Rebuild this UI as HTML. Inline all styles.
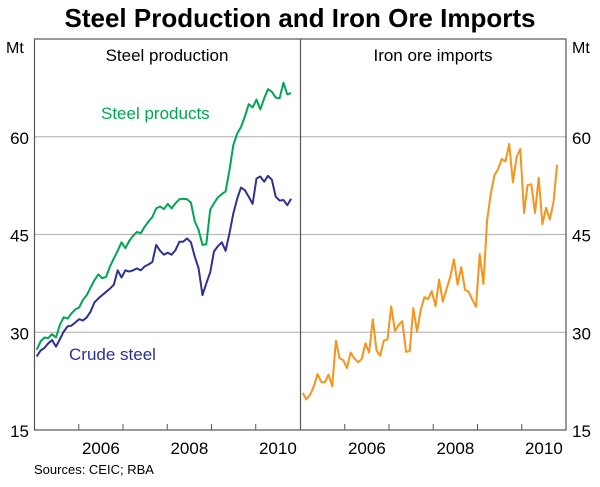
<!DOCTYPE html>
<html><head><meta charset="utf-8"><style>
body{margin:0;background:#fff;width:600px;height:482px;overflow:hidden}
svg text{font-family:"Liberation Sans",Arial,sans-serif}
</style></head><body>
<svg id="chart" width="600" height="482">
<text x="300" y="27" text-anchor="middle" font-size="26" font-weight="bold" fill="#000">Steel Production and Iron Ore Imports</text>
<g id="grid"></g>
<g id="series"></g>
<rect x="34.5" y="39" width="531.5" height="391" fill="none" stroke="#555" stroke-width="1.2"/>
<line x1="300.5" y1="39" x2="300.5" y2="430" stroke="#555" stroke-width="1.2"/>
<text x="167" y="61" text-anchor="middle" font-size="17">Steel production</text>
<text x="433" y="61" text-anchor="middle" font-size="17">Iron ore imports</text>
<text x="6" y="53" font-size="16">Mt</text>
<text x="572" y="53" font-size="16">Mt</text>
<text x="101" y="119" font-size="17" fill="#00a651">Steel products</text>
<text x="69" y="360" font-size="17" fill="#2e3192">Crude steel</text>
<text x="34" y="474" font-size="13">Sources: CEIC; RBA</text>
<g id="axes"></g>
</svg>
<script>
const yTicks=[15,30,45,60];
const yearLabels=[2006,2008,2010];
const steelProducts=[27.3,28.6,29.2,29.1,29.7,29.2,31.1,32.3,32.1,32.9,33.5,33.8,35.0,35.7,36.9,38.0,38.9,38.3,38.5,40.1,41.3,42.5,43.8,42.9,44.0,44.8,45.4,45.2,46.2,47.0,47.7,49.0,49.3,48.9,49.7,49.0,49.8,50.4,50.5,50.4,49.9,47.0,45.7,43.4,43.5,48.8,49.8,50.7,51.2,51.6,54.9,58.7,60.5,61.5,63.1,65.0,64.5,65.7,64.2,65.9,67.3,66.9,66.0,65.9,68.3,66.5,66.7];
const crudeSteel=[26.3,27.2,27.6,28.3,28.8,27.8,28.9,30.1,30.9,31.0,31.5,32.0,31.8,32.3,33.2,34.6,35.2,35.7,36.2,36.7,37.3,39.5,38.4,39.5,39.3,39.5,39.8,39.5,40.1,40.4,40.8,43.4,42.5,41.9,42.2,41.9,42.6,43.9,43.9,44.4,43.8,41.6,39.8,35.7,37.5,39.2,42.4,43.2,43.8,42.5,45.2,48.2,50.5,52.2,51.8,50.8,49.7,53.6,53.9,53.1,54.0,53.4,50.8,50.2,50.3,49.5,50.5];
const ironOre=[20.7,19.7,20.4,21.7,23.6,22.4,22.3,23.5,21.7,28.7,26.0,25.7,24.5,26.9,26.0,25.4,25.9,28.3,26.9,32.0,27.2,26.4,28.7,28.9,34.0,30.2,31.1,31.7,27.0,27.1,33.7,30.1,33.4,35.4,35.1,36.3,34.0,38.1,34.7,36.6,38.5,41.2,37.3,40.0,36.5,36.2,35.0,33.9,42.0,37.4,47.2,51.3,54.1,55.1,56.6,56.2,58.9,53.0,56.9,58.1,48.3,52.6,52.7,48.3,53.7,46.6,49.1,47.3,50.0,55.7];
const T0=2005,T1=2011,dStart=2005.05,dEnd=2010.8;
const NS='http://www.w3.org/2000/svg';
function y(v){return 430-(v-15)*(391/60);}
function xs(x0){return t=>x0+(t-T0)*(265.5/(T1-T0));}
const xL=xs(34.5),xR=xs(300.5);
const grid=document.getElementById('grid'),axes=document.getElementById('axes'),ser=document.getElementById('series');
function mk(tag,attrs,parent){const e=document.createElementNS(NS,tag);for(const k in attrs)e.setAttribute(k,attrs[k]);parent.appendChild(e);return e;}
yTicks.forEach(v=>{
 if(v>15){const g=mk('line',{x1:34.5,x2:566,y1:y(v),y2:y(v),stroke:'#bbb','stroke-width':1.2},grid);
 
 }
 const a=mk('text',{x:29,y:y(v)+7,'text-anchor':'end','font-size':17},axes);a.textContent=v;
 
 
 const b=mk('text',{x:572,y:y(v)+7,'font-size':17},axes);b.textContent=v;
 
 
});
[xL,xR].forEach((xf,pi)=>{
 for(let yr=2006;yr<=2010;yr++){const t=mk('line',{x1:xf(yr),x2:xf(yr),y1:430,y2:424,stroke:'#555','stroke-width':1},axes);
 
 }
 yearLabels.forEach(yr=>{const l=mk('text',{x:xf(yr+0.5),y:454,'text-anchor':'middle','font-size':17},axes);l.textContent=yr;
 
 });
});
function line(data,xf,color,name){
 const n=data.length;const pts=data.map((v,i)=>xf(dStart+(dEnd-dStart)*i/(n-1)).toFixed(1)+','+y(v).toFixed(1)).join(' ');
 const p=mk('polyline',{points:pts,fill:'none',stroke:color,'stroke-width':2,'stroke-linejoin':'round'},ser);
 
 
}
line(steelProducts,xL,'#00a651','steel-products-line');
line(crudeSteel,xL,'#2e3192','crude-steel-line');
line(ironOre,xR,'#f7941d','iron-ore-imports-line');
</script>
</body></html>
